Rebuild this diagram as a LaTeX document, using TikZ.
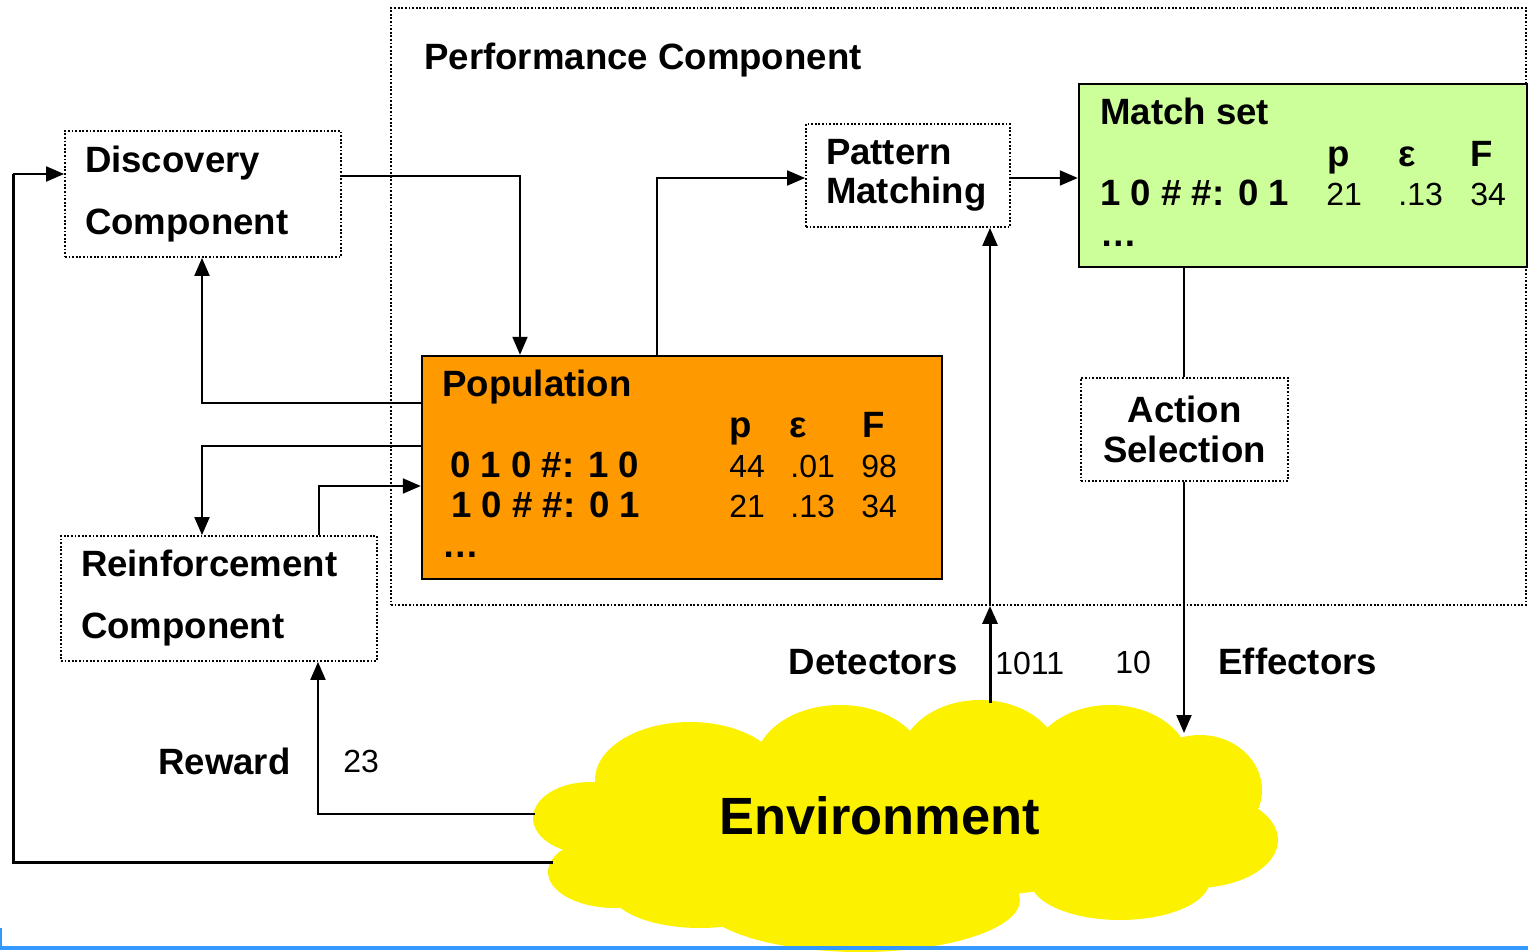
\documentclass[tikz,border=0pt]{standalone}
\usepackage{fontspec}
\setmainfont{Liberation Sans}
\usetikzlibrary{arrows.meta,calc}
\definecolor{popor}{HTML}{FF9900}
\definecolor{msgreen}{HTML}{CCFF99}
\definecolor{envyel}{HTML}{FCF200}
\definecolor{rulblue}{HTML}{3399FF}
\begin{document}
\begin{tikzpicture}[x=0.5pt,y=-0.5pt,
  dotbox/.style={draw, line width=0.9pt, dash pattern=on 0.9pt off 0.9pt, inner ysep=0pt, inner xsep=10pt,
     font=\fontsize{18.3}{31}\selectfont\bfseries},
  solidbox/.style={draw, line width=1.2pt, inner sep=0pt},
  conn/.style={line width=1pt},
  arr/.style={conn, -{Triangle[length=9pt,width=7.5pt]}},
  lbl/.style={font=\fontsize{18.3}{22}\selectfont\bfseries, inner sep=0pt, anchor=base west},
  num/.style={font=\fontsize{16}{19}\selectfont, inner sep=0pt, anchor=base west},
  code/.style={font=\fontsize{18.3}{22}\selectfont\bfseries, inner sep=0pt, anchor=base west},
  lobe/.style={fill=envyel, draw=none},
]
\useasboundingbox (0,0) rectangle (1528,952);

% Environment cloud
\fill[lobe] (900,820) ellipse [x radius=300, y radius=80];
\fill[lobe] (590,818) ellipse [x radius=57, y radius=36];
\fill[lobe] (615,872) ellipse [x radius=67, y radius=36];
\fill[lobe] (690,780) ellipse [x radius=95, y radius=58];
\fill[lobe] (840,765) ellipse [x radius=85, y radius=60];
\fill[lobe] (980,760) ellipse [x radius=80, y radius=60];
\fill[lobe] (1110,765) ellipse [x radius=80, y radius=60];
\fill[lobe] (1200,790) ellipse [x radius=62, y radius=55];
\fill[lobe] (1195,840) ellipse [x radius=83, y radius=48];
\fill[lobe] (1120,880) ellipse [x radius=90, y radius=40];
\fill[lobe] (860,900) ellipse [x radius=160, y radius=52];
\fill[lobe] (700,890) ellipse [x radius=90, y radius=38];
\node[font=\fontsize{26.2}{30}\selectfont\bfseries, inner sep=0pt, anchor=base] (env) at (880,834) {Environment};
\coordinate (envdet) at (990,703);
\coordinate (enveff) at (1184,733);
\coordinate (envrew) at (535,814);
\coordinate (envdisc) at (553,862);

% Performance component frame
\node[dotbox, inner sep=0pt, minimum width=567.5pt, minimum height=298.5pt] (perf) at (958.5,306.5) {};
\node[lbl] (perftitle) at (424,70) {Performance Component};

% Boxes
\node[dotbox, minimum width=138pt, minimum height=63pt, text width=118pt, align=left] (disc) at (203,194) {Discovery\\Component};
\node[dotbox, font=\fontsize{18.3}{19.5}\selectfont\bfseries, minimum width=102pt, minimum height=51.5pt, text width=82pt, align=left] (pm) at (908,175.5) {Pattern\\Matching};
\node[dotbox, font=\fontsize{18.3}{20}\selectfont\bfseries, minimum width=103.5pt, minimum height=51.5pt, text width=83.5pt, align=center] (as) at (1184.5,429.5) {Action\\Selection};
\node[dotbox, minimum width=158pt, minimum height=62.5pt, text width=138pt, align=left] (reinf) at (219,598.5) {Reinforcement\\Component};
\node[solidbox, fill=popor, minimum width=260pt, minimum height=111.5pt] (pop) at (682,467.5) {};
\node[solidbox, fill=msgreen, minimum width=224pt, minimum height=91.5pt] (ms) at (1303,175.5) {};

% Population contents
\node[lbl] (poptitle) at (442,397) {Population};
\node[lbl] (poph1) at (729,438) {p};
\node[lbl] (poph2) at (789,438) {ε};
\node[lbl] (poph3) at (862,438) {F};
\node[code] (popr1) at (450,478) {0 1 0 \#: 1 0};
\node[num] (popr1a) at (729,478) {44};
\node[num] (popr1b) at (790,478) {.01};
\node[num] (popr1c) at (861,478) {98};
\node[code] (popr2) at (451,517) {1 0 \# \#: 0 1};
\node[num] (popr2a) at (729,517) {21};
\node[num] (popr2b) at (790,517) {.13};
\node[num] (popr2c) at (861,517) {34};
\node[lbl] (popdots) at (442,558) {…};

% Match set contents
\node[lbl] (mstitle) at (1100,125) {Match set};
\node[lbl] (msh1) at (1327,167) {p};
\node[lbl] (msh2) at (1398,167) {ε};
\node[lbl] (msh3) at (1470,167) {F};
\node[code] (msr1) at (1100,206) {1 0 \# \#: 0 1};
\node[num] (msr1a) at (1326,206) {21};
\node[num] (msr1b) at (1398,206) {.13};
\node[num] (msr1c) at (1470,206) {34};
\node[lbl] (msdots) at (1100,247) {…};

% Labels
\node[lbl, anchor=base east] (det) at (958,675) {Detectors};
\node[num] (detval) at (995,674) {1011};
\node[num] (effval) at (1115,673) {10};
\node[lbl] (eff) at (1218,675) {Effectors};
\node[lbl] (rew) at (158,774) {Reward};
\node[num] (rewval) at (343,772) {23};

% Connectors
\draw[arr] (disc.east |- 0,176) -| (pop.north -| 520,0);
\draw[arr] (pop.west |- 0,403) -| (disc.south -| 202,0);
\draw[arr] (pop.west |- 0,446) -| (reinf.north -| 202,0);
\draw[arr] (reinf.north -| 319,0) |- (pop.west |- 0,486);
\draw[arr] (pop.north -| 657,0) |- (pm.west |- 0,178);
\draw[arr] (pm.east |- 0,178) -- (ms.west |- 0,178);
\draw[conn] (ms.south -| 1184,0) -- (as.north -| 1184,0);
\draw[arr] (as.south -| 1184,0) -- (enveff);
\draw[arr, line width=1.5pt] (envdet) -- (perf.south -| envdet);
\draw[arr] (perf.south -| envdet) -- (pm.south -| envdet);
\draw[arr] (envrew) -| (reinf.south -| 318,0);
\draw[conn, line width=1.5pt] (envdisc) -- (13,862) -- (13,174);
\draw[arr] (13,174) -- (disc.west |- 0,174);

% bottom rule
\draw[rulblue, line width=1.6pt] (0,948) -- (1528,948);
\draw[rulblue, line width=1.2pt] (1,948) -- (1,928);
\end{tikzpicture}
\end{document}
